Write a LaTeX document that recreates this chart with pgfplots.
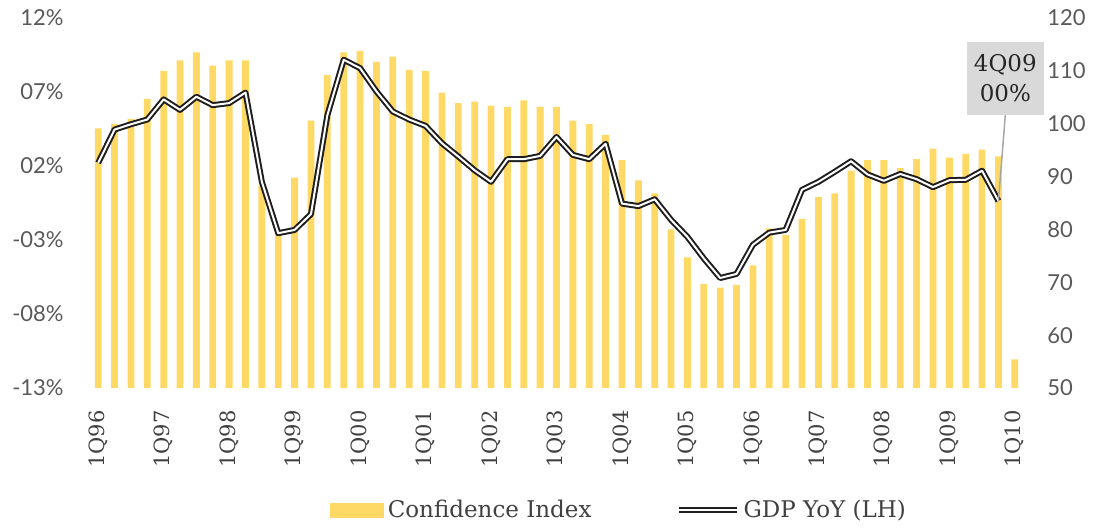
\documentclass[border=0pt]{standalone}
\usepackage{fontspec}
\setmainfont{DejaVu Serif}
\newfontfamily\latofont{Lato}
\usepackage{pgfplots}
\pgfplotsset{compat=1.18}
\usepackage{pgfplotstable}

\definecolor{barcol}{RGB}{255,217,102}
\definecolor{linecol}{RGB}{30,30,30}
\definecolor{xlab}{RGB}{64,64,64}
\definecolor{ylab}{RGB}{89,89,89}
\definecolor{boxcol}{RGB}{217,217,217}
\definecolor{leadcol}{RGB}{166,166,166}

\pgfplotstableread{
k ci
0 99.1
1 99.9
2 100.9
3 104.7
4 110.0
5 112.0
6 113.5
7 111.0
8 112.0
9 112.0
10 88.3
11 79.3
12 89.8
13 100.6
14 109.2
15 113.5
16 113.8
17 111.7
18 112.7
19 110.2
20 110.0
21 105.9
22 103.9
23 104.2
24 103.4
25 103.2
26 104.4
27 103.2
28 103.2
29 100.6
30 99.9
31 97.9
32 93.1
33 89.3
34 86.8
35 80.0
36 74.7
37 69.7
38 69.0
39 69.5
40 73.2
41 80.2
42 78.9
43 82.0
44 86.1
45 86.8
46 91.1
47 93.1
48 93.1
49 91.6
50 93.3
51 95.3
52 93.6
53 94.3
54 95.1
55 93.8
56 55.4
}\bardata

\pgfplotstableread{
k gdp
0 2.21
1 4.46
2 4.82
3 5.14
4 6.50
5 5.79
6 6.68
7 6.11
8 6.25
9 6.96
10 0.93
11 -2.54
12 -2.32
13 -1.25
14 5.43
15 9.18
16 8.61
17 7.04
18 5.68
19 5.14
20 4.71
21 3.54
22 2.64
23 1.71
24 0.93
25 2.46
26 2.46
27 2.68
28 3.96
29 2.75
30 2.46
31 3.50
32 -0.54
33 -0.71
34 -0.25
35 -1.64
36 -2.79
37 -4.25
38 -5.57
39 -5.29
40 -3.32
41 -2.50
42 -2.32
43 0.39
44 0.93
45 1.61
46 2.32
47 1.43
48 1.00
49 1.46
50 1.11
51 0.57
52 1.04
53 1.07
54 1.68
55 -0.36
}\linedata

\begin{document}
\begin{tikzpicture}
\useasboundingbox (0,0) rectangle (548pt,264pt);
% bars, right axis
\begin{axis}[
  at={(45pt,70pt)}, anchor=south west,
  width=466.5pt, height=185pt, scale only axis,
  xmin=-0.5, xmax=56.5,
  ymin=50, ymax=120,
  axis x line*=bottom, axis y line*=right,
  axis line style={draw=none},
  major tick length=0pt,
  xtick={0,4,...,56},
  xticklabels={1Q96,1Q97,1Q98,1Q99,1Q00,1Q01,1Q02,1Q03,1Q04,1Q05,1Q06,1Q07,1Q08,1Q09,1Q10},
  xticklabel style={font=\fontsize{10.5}{12}\selectfont, text=xlab, yshift=-11pt, rotate=90, anchor=east, inner sep=0pt},
  ytick={50,60,...,120},
  yticklabels={50,60,70,80,90,100,110,120},
  yticklabel style={font=\latofont\fontsize{11}{13}\selectfont, text=ylab, inner sep=0pt, anchor=west, xshift=12pt},
]
\addplot[ybar, bar width=3.4pt, bar shift=0pt, fill=barcol, draw=none] table[x=k,y=ci]{\bardata};
\end{axis}
% line, left axis
\begin{axis}[
  at={(45pt,70pt)}, anchor=south west,
  width=466.5pt, height=185pt, scale only axis,
  xmin=-0.5, xmax=56.5,
  ymin=-13, ymax=12,
  axis x line*=bottom, axis y line*=left,
  axis line style={draw=none},
  major tick length=0pt,
  xtick=\empty,
  ytick={-13,-8,-3,2,7,12},
  yticklabels={-13\%,-08\%,-03\%,02\%,07\%,12\%},
  yticklabel style={font=\latofont\fontsize{11}{13}\selectfont, text=ylab, inner sep=0pt, anchor=east, xshift=-13pt},
  clip=false,
  legend style={at={(0.568,-0.33)}, anchor=center, draw=none, fill=none,
    legend columns=2, font=\fontsize{11.5}{13}\selectfont, text=xlab,
    /tikz/every even column/.append style={column sep=40pt}},
  legend cell align=left,
]
\addlegendimage{legend image code/.code={\fill[barcol] (0pt,-3.5pt) rectangle (26.5pt,3.5pt);}}
\addlegendentry{Confidence Index}
\addplot[linecol, line width=1pt, double=white, double distance=1pt, line join=round, mark=none,
  legend image code/.code={\draw[linecol, line width=1pt, double=white, double distance=1pt] (0pt,0pt) -- (29pt,0pt);}]
  table[x=k,y=gdp]{\linedata};
\addlegendentry{GDP YoY (LH)}
\draw[leadcol, line width=0.75pt] (axis cs:55.42,5.45) -- (axis cs:55,-0.36);
\node[fill=boxcol, minimum width=38.5pt, minimum height=36.5pt, inner sep=1pt, align=center,
  font=\fontsize{11.5}{15}\selectfont, text={rgb,255:red,38;green,38;blue,38}]
  at (axis cs:55.42,7.91) {4Q09\\00\%};
\end{axis}
\end{tikzpicture}
\end{document}
